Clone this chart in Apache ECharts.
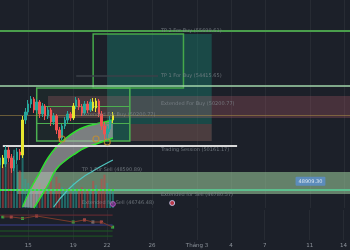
<!DOCTYPE html>
<html><head><meta charset="utf-8">
<script src="https://cdn.jsdelivr.net/npm/echarts@6/dist/echarts.min.js"></script>
<style>html,body{margin:0;padding:0;background:#1c2029;}#c{width:350px;height:250px;}</style>
</head><body><div id="c"></div>
<script>
// ---- axis / categories (6h bars) ----
const START = Date.UTC(2024, 1, 12, 12);
const SLOTS = 125;
const tickDates = ['2024-02-15T00','2024-02-19T00','2024-02-22T00','2024-02-26T00','2024-03-01T00','2024-03-04T00','2024-03-07T00','2024-03-11T00','2024-03-14T00'];
const tickLabels = ['15','19','22','26','Tháng 3','4','7','11','14'];

// ---- candles ----
const candleOpen  = [50150,50500,50200,50900,50500,50000,50400,50800,50650,52400,52800,53200,53450,52900,53300,52700,53100,52600,52900,52300,52600,51900,51500,52100,52400,52700,52500,53100,53400,53050,52750,53200,52900,53300,53000,53350,52700,52100,51700,51950,52400];
const candleClose = [50500,50200,50900,50500,50000,50400,50800,50650,52400,52800,53200,53450,52900,53300,52700,53100,52600,52900,52300,52600,51900,51500,52100,52400,52700,52500,53100,53400,53050,52750,53200,52900,53300,53000,53350,52700,52100,51700,51950,52400,52650];
const candleLow   = [49900,50000,50050,50300,49750,49850,50200,50400,50500,52200,52650,53000,52750,52750,52500,52550,52400,52450,52100,52150,51700,51300,51400,51950,52250,52350,52400,52950,52900,52600,52650,52750,52800,52850,52800,52550,51900,51450,51400,51800,52250];
const candleHigh  = [50800,50650,51100,51050,50700,50600,51000,50950,52600,53000,53400,53600,53550,53450,53400,53250,53200,53050,53000,52750,52700,52050,52200,52550,52850,52800,53250,53550,53500,53200,53350,53350,53450,53500,53500,53450,52850,52300,52100,52600,52800];
const yellowBars  = [1, 8, 26, 33, 34, 40];
const volume      = [24,20,27,22,25,28,21,18,26,14,12,10,13,9,12,8,11,9,13,8,15,12,10,9,8,7,12,9,8,10,7,9,8,13,11,9,14,16,12,9,8];

// ---- zones / levels ----
const tp2Level = 56850, tp1Level = 54100, leaderLevel = 54600;
const box1 = [33, 65, 56700, 54000];
const tealZone = [38, 75, 56700, 51350];
const pinkZone = [17, 124, 53600, 52500];
const redZone = [46, 75, 52200, 51350];
const box2 = [13, 46, 54000, 51350];
const box2Inner = [53100, 52250];
const oliveLevel = 52625;
const sessionLevel = 51100, sessionRange = [1, 84];
const sellZone = [6, 124, 49800, 48700];
const lastPrice = 48909.30;

// ---- curved band / indicators ----
const bandUK = [8,11,14,17,20,23,27,30,34,37,40];
const bandU  = [48050,49000,49750,50500,51050,51450,51850,52050,52200,52300,52400];
const bandLK = [12,14,17,20,23,27,30,34,37,40];
const bandL  = [48000,48450,49150,49950,50350,50750,51000,51200,51350,51500];
const cyanK  = [19,24,29,33,36,40];
const cyanV  = [48050,48900,49500,49850,50100,50400];
const orangeK = [22, 34, 38];
const orangeV = [51450, 51450, 51300];

// ---- text labels ----
const labelK = [57, 57, 57, 29, 57, 29, 57, 29];
const labelV = [56850, 54600, 53200, 52650, 50900, 49900, 48650, 48250];
const labelText = ['TP 2 For Buy (55699.61)','TP 1 For Buy (54415.65)','Extended For Buy (50200.77)','Extended For Buy (50200.77)','Trading Session (50161.17)','TP 1 For Sell (48590.89)','Extended for Sell (46780.57)','Extended for Sell (46746.48)'];

// ---- lower panel ----
const panelRed = 83, panelBlue = 50, panelGreen1 = 30, panelGreen2 = 13;
const panelK = [1,4,8,13,26,30,33,36,40];
const panelV = [77,77,72,80,60,67,60,60,43];
const panelGreenIdx = [0,2,4,8];
const panelRedIdx = [1,3,5,7];
const panelGrayIdx = [6];

// ---- build ----
const cats = [];
for (let i = 0; i < SLOTS; i++) cats.push(new Date(START + i * 6 * 3600e3).toISOString().slice(0, 13));
const tickMap = new Map(tickDates.map((d, i) => [d, tickLabels[i]]));
const showTick = (i, v) => tickMap.has(v);
const last = SLOTS - 1;
const candleData = candleOpen.map((o, i) => {
  const item = { value: [o, candleClose[i], candleLow[i], candleHigh[i]] };
  if (yellowBars.includes(i)) item.itemStyle = { color: '#e6e62e', color0: '#e6e62e', borderColor: '#e6e62e', borderColor0: '#e6e62e' };
  return item;
});
const volData = volume.map((v, i) => ({ value: v, itemStyle: { color: candleClose[i] >= candleOpen[i] ? 'rgba(38,166,154,0.55)' : 'rgba(200,70,70,0.55)' } }));
const area = (z, style) => [{ coord: [z[0], z[2]], itemStyle: style }, { coord: [z[1], z[3]] }];
const hline = (k0, k1, v, style) => [{ coord: [k0, v], lineStyle: style }, { coord: [k1, v] }];
const pairs = (ks, vs) => ks.map((k, i) => [k, vs[i]]);

const splitStyle = { show: true, interval: showTick, lineStyle: { color: 'rgba(255,255,255,0.05)', width: 1 } };

const option = {
  backgroundColor: '#1c2029',
  animation: false,
  grid: [
    { left: 0, right: 0, top: 0, height: 208 },
    { left: 0, right: 0, top: 210, height: 30 }
  ],
  xAxis: [
    { type: 'category', gridIndex: 0, data: cats, boundaryGap: false, axisLine: { show: false }, axisTick: { show: false }, axisLabel: { show: false }, splitLine: splitStyle },
    { type: 'category', gridIndex: 1, data: cats, boundaryGap: false, axisLine: { show: false }, axisTick: { show: false },
      axisLabel: { interval: showTick, formatter: v => tickMap.get(v) || '', color: '#8d939b', fontSize: 5.5, margin: 3, fontFamily: 'DejaVu Sans' },
      splitLine: splitStyle }
  ],
  yAxis: [
    { type: 'value', gridIndex: 0, min: 48000, max: 58400, show: false },
    { type: 'value', gridIndex: 0, min: 0, max: 100, show: false },
    { type: 'value', gridIndex: 1, min: 0, max: 100, show: false }
  ],
  series: [
    { type: 'line', xAxisIndex: 0, yAxisIndex: 0, data: [], z: 1, silent: true,
      markArea: { silent: true, label: { show: false }, data: [
        area(tealZone, { color: 'rgba(25,130,115,0.42)' }),
        area(pinkZone, { color: 'rgba(200,100,115,0.25)' }),
        area(redZone, { color: 'rgba(170,40,50,0.35)' }),
        area(box1, { color: 'rgba(0,0,0,0)', borderColor: '#45a84a', borderWidth: 1.5 }),
        area(box2, { color: 'rgba(76,175,80,0.06)', borderColor: '#4caf50', borderWidth: 1.5 }),
        area(sellZone, { color: 'rgba(160,210,160,0.55)' })
      ] } },
    { type: 'bar', xAxisIndex: 0, yAxisIndex: 1, data: volData, barWidth: 2, z: 2, silent: true },
    { type: 'custom', xAxisIndex: 0, yAxisIndex: 0, data: [[0, 48000]], z: 3, silent: true,
      renderItem: function (params, api) {
        if (params.dataIndex !== 0) return;
        const pts = [];
        for (let i = 0; i < bandUK.length; i++) pts.push(api.coord([bandUK[i], bandU[i]]));
        for (let i = bandLK.length - 1; i >= 0; i--) pts.push(api.coord([bandLK[i], bandL[i]]));
        return { type: 'polygon', shape: { points: pts }, style: { fill: 'rgba(185,185,185,0.6)' } };
      } },
    { type: 'line', xAxisIndex: 0, yAxisIndex: 0, data: pairs(bandUK, bandU), smooth: true, symbol: 'none', lineStyle: { color: '#2fe02f', width: 1.5 }, z: 4, silent: true },
    { type: 'line', xAxisIndex: 0, yAxisIndex: 0, data: pairs(bandLK, bandL), smooth: true, symbol: 'none', lineStyle: { color: '#2fe02f', width: 1.5 }, z: 4, silent: true },
    { type: 'line', xAxisIndex: 0, yAxisIndex: 0, data: pairs(cyanK, cyanV), smooth: true, symbol: 'none', lineStyle: { color: '#4fc6c0', width: 1.2 }, z: 4, silent: true },
    { type: 'candlestick', xAxisIndex: 0, yAxisIndex: 0, data: candleData, barWidth: 2, z: 5, silent: true,
      itemStyle: { color: '#26a69a', color0: '#ef5350', borderColor: '#26a69a', borderColor0: '#ef5350', borderWidth: 1 } },
    { type: 'line', xAxisIndex: 0, yAxisIndex: 0, data: [], z: 6, silent: true,
      markLine: { silent: true, symbol: 'none', label: { show: false }, data: [
        hline(0, last, tp2Level, { color: '#4a9e4c', width: 2, type: 'solid' }),
        hline(0, last, tp1Level, { color: '#a2d6ab', width: 1.5, type: 'solid' }),
        hline(27, 56, leaderLevel, { color: '#3b4049', width: 1.5, type: 'solid' }),
        hline(box2[0], box2[1], box2Inner[0], { color: '#4caf50', width: 1, type: 'solid' }),
        hline(box2[0], box2[1], box2Inner[1], { color: '#4caf50', width: 1, type: 'solid' }),
        hline(0, last, oliveLevel, { color: 'rgba(170,140,70,0.55)', width: 1, type: 'solid' }),
        hline(sessionRange[0], sessionRange[1], sessionLevel, { color: '#d8d8d8', width: 2, type: 'solid' }),
        hline(0, last, lastPrice, { color: '#5cbf8e', width: 2, type: 'solid' }),
        hline(0, 41, lastPrice, { color: '#35e835', width: 2, type: 'dotted' })
      ] } },
    { type: 'scatter', xAxisIndex: 0, yAxisIndex: 0, data: pairs(orangeK, orangeV), symbol: 'circle', symbolSize: 6, z: 7, silent: true,
      itemStyle: { color: 'rgba(0,0,0,0)', borderColor: '#c8902a', borderWidth: 1.2 } },
    { type: 'scatter', xAxisIndex: 0, yAxisIndex: 0, data: [[40, 48200]], symbolSize: 5, z: 7, silent: true,
      itemStyle: { color: '#7a2a8a', borderColor: '#c060d0', borderWidth: 1 } },
    { type: 'scatter', xAxisIndex: 0, yAxisIndex: 0, data: [[61, 48250]], symbolSize: 5, z: 7, silent: true,
      itemStyle: { color: '#e04050', borderColor: '#d0d8ff', borderWidth: 1 } },
    { type: 'scatter', xAxisIndex: 0, yAxisIndex: 0, symbolSize: 0, z: 8, silent: true,
      data: labelK.map((k, i) => ({ value: [k, labelV[i]], name: labelText[i] })),
      label: { show: true, position: 'right', distance: 0, formatter: p => p.name, color: '#7f878d', fontSize: 5, fontFamily: 'DejaVu Sans' } },
    { type: 'scatter', xAxisIndex: 0, yAxisIndex: 0, symbolSize: 0, z: 9, silent: true,
      data: [{ value: [110, lastPrice], name: lastPrice.toFixed(2) }],
      label: { show: true, position: 'top', distance: 4, formatter: p => p.name, color: '#ffffff', fontSize: 5, fontFamily: 'DejaVu Sans',
        backgroundColor: '#5a8fd0', padding: [2, 3], borderRadius: 1 } },
    // lower panel
    { type: 'line', xAxisIndex: 1, yAxisIndex: 2, data: [[0, panelRed], [40, panelRed]], symbol: 'none', lineStyle: { color: '#6e2a33', width: 1 }, silent: true },
    { type: 'line', xAxisIndex: 1, yAxisIndex: 2, data: [[0, panelBlue], [40, panelBlue]], symbol: 'none', lineStyle: { color: '#3b3f8f', width: 1 }, silent: true },
    { type: 'line', xAxisIndex: 1, yAxisIndex: 2, data: [[0, panelGreen1], [40, panelGreen1]], symbol: 'none', lineStyle: { color: '#1d5a22', width: 1 }, silent: true },
    { type: 'line', xAxisIndex: 1, yAxisIndex: 2, data: [[0, panelGreen2], [40, panelGreen2]], symbol: 'none', lineStyle: { color: '#1d5a22', width: 1 }, silent: true },
    { type: 'line', xAxisIndex: 1, yAxisIndex: 2, data: pairs(panelK, panelV), symbol: 'none', lineStyle: { color: '#7a3a2a', width: 1 }, silent: true },
    { type: 'scatter', xAxisIndex: 1, yAxisIndex: 2, data: panelGreenIdx.map(i => [panelK[i], panelV[i]]), symbol: 'rect', symbolSize: 3, itemStyle: { color: '#3ecf4a' }, silent: true },
    { type: 'scatter', xAxisIndex: 1, yAxisIndex: 2, data: panelRedIdx.map(i => [panelK[i], panelV[i]]), symbol: 'rect', symbolSize: 3, itemStyle: { color: '#e05a5a' }, silent: true },
    { type: 'scatter', xAxisIndex: 1, yAxisIndex: 2, data: panelGrayIdx.map(i => [panelK[i], panelV[i]]), symbol: 'rect', symbolSize: 3, itemStyle: { color: '#9aa0a0' }, silent: true }
  ]
};
echarts.init(document.getElementById('c')).setOption(option);
</script>
</body></html>
